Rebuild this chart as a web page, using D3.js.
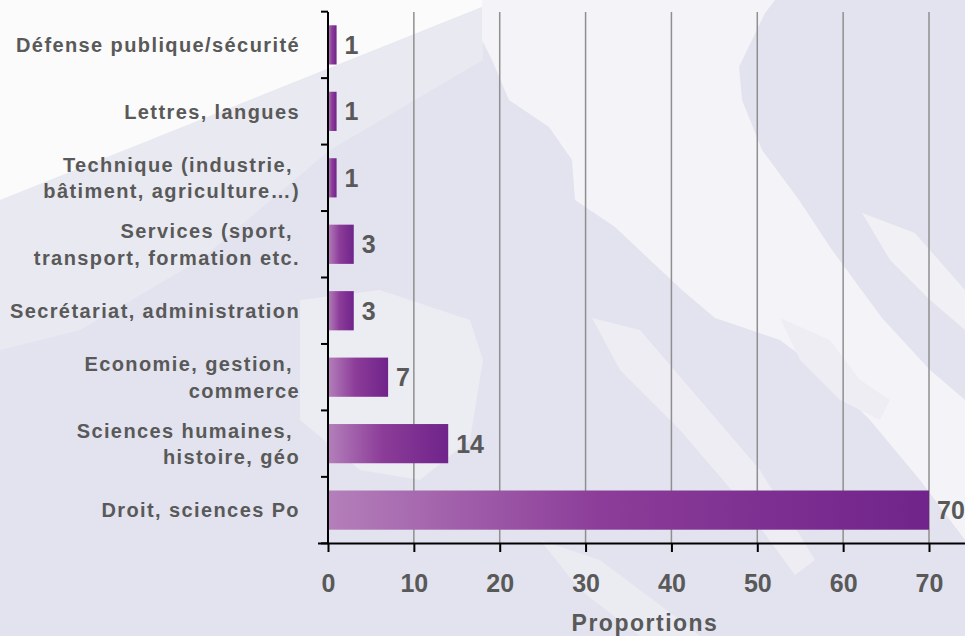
<!DOCTYPE html>
<html lang="fr">
<head>
  <meta charset="UTF-8" />
  <title>Proportions</title>
  <script src="https://d3js.org/d3.v7.min.js" charset="utf-8"></script>
  <style>
    body { margin: 0; background: #e2e3ee; }
    text { font-family: Arial, "Liberation Sans", sans-serif; font-weight: bold; fill: #595959; }
  </style>
</head>
<body>
<script type="text/javascript">

const WIDTH = 965;
const HEIGHT = 636;

// categories top -> bottom, one array entry per label line
const categories = [
    ["Défense publique/sécurité"],
    ["Lettres, langues"],
    ["Technique (industrie, ", "bâtiment, agriculture…)"],
    ["Services (sport, ", "transport, formation etc."],
    ["Secrétariat, administration"],
    ["Economie, gestion, ", "commerce"],
    ["Sciences humaines, ", "histoire, géo"],
    ["Droit, sciences Po"]
];
const values = [1, 1, 1, 3, 3, 7, 14, 70];
const xTicks = [0, 10, 20, 30, 40, 50, 60, 70];
const xTitle = "Proportions";

const svg = d3.select("body")
    .append("svg")
        .attr("width", WIDTH)
        .attr("height", HEIGHT);

// background (faded photo look), just decoration
const bg = svg.append("g");
bg.append("rect").attr("width", WIDTH).attr("height", HEIGHT).attr("fill", "#e2e3ee");
const shapes = [
    // soft lighter zone under the white corner
    ["#e9e9f1", "M0,200 L483,7 L483,60 L330,150 L200,260 L80,330 L0,350 Z"],
    // light patch behind the short bars
    ["#ececf3", "M300,300 L380,290 L470,320 L483,360 L470,440 L420,480 L360,470 L300,420 Z"],
    // diagonal light streak
    ["#f4f4f8", "M482,0 L775,0 L765,13 L739,67 L742,100 L762,150 L799,200 L832,250 L882,318 L930,370 L965,400 L965,540 L920,480 L870,420 L820,370 L780,340 L715,318 L682,290 L615,227 L575,200 L572,160 L549,127 L509,100 L492,60 L482,40 Z"],
    ["#f0f0f5", "M862,213 L915,233 L965,290 L965,330 L930,300 L890,260 Z"],
    // thin streaks lower right
    ["#ededf3", "M592,318 L640,330 L700,400 L760,470 L815,560 L795,575 L740,500 L680,430 L620,370 Z"],
    ["#ededf3", "M780,318 L830,340 L860,380 L890,400 L880,420 L840,400 L800,360 Z"],
    ["#ebebf2", "M540,540 L600,560 L680,620 L700,636 L640,636 L580,590 Z"],
    // white top-left corner
    ["#fbfbfc", "M0,0 L482,0 L482,7 L0,200 Z"]
];
bg.selectAll("path.bgshape")
    .data(shapes)
    .join("path")
        .attr("class", "bgshape")
        .attr("fill", d => d[0])
        .attr("d", d => d[1]);

const g = svg.append("g");

const x = d3.scaleLinear()
    .domain([0, 70])
    .range([328, 929]);

const y = d3.scaleBand()
    .domain(d3.range(categories.length))
    .range([12, 543])
    .paddingInner(0.41)
    .paddingOuter(0.2);

const grad = svg.append("defs").append("linearGradient")
    .attr("id", "barGrad")
    .attr("x1", "0%").attr("x2", "100%")
    .attr("y1", "0%").attr("y2", "0%");
grad.append("stop").attr("offset", "0%").attr("stop-color", "#b47fba");
grad.append("stop").attr("offset", "45%").attr("stop-color", "#8c3d99");
grad.append("stop").attr("offset", "100%").attr("stop-color", "#70238a");

// vertical grid
g.append("g")
    .selectAll("line")
    .data(xTicks.slice(1))
    .join("line")
        .attr("x1", d => x(d)).attr("x2", d => x(d))
        .attr("y1", y.range()[0]).attr("y2", y.range()[1])
        .attr("stroke", "#8f8f8f")
        .attr("stroke-width", 1.5);

// bars
g.append("g")
    .selectAll("rect")
    .data(values)
    .join("rect")
        .attr("x", x(0))
        .attr("y", (d, i) => y(i))
        .attr("width", d => x(d) - x(0))
        .attr("height", y.bandwidth())
        .attr("fill", "url(#barGrad)");

// value labels
g.append("g")
    .selectAll("text")
    .data(values)
    .join("text")
        .attr("x", d => x(d) + 8)
        .attr("y", (d, i) => y(i) + y.bandwidth() / 2)
        .attr("dy", "0.36em")
        .attr("font-size", "25px")
        .text(d => d);

// x axis
g.append("g")
    .attr("transform", `translate(0,${y.range()[1]})`)
    .call(d3.axisBottom(x).tickValues(xTicks).tickSize(9).tickSizeOuter(0).tickPadding(22))
    .call(a => a.select(".domain").attr("stroke", "#000").attr("stroke-width", 2)
        .attr("d", `M${x(0) - 10},0.5H${x(70) + 36}`))
    .call(a => a.selectAll(".tick line").attr("stroke", "#000").attr("stroke-width", 2))
    .call(a => a.selectAll(".tick text")
        .attr("font-size", "25px")
        .attr("font-family", null)
        .attr("fill", "#595959"));

// y axis with ticks on band boundaries
const step = y.step();
const bounds = d3.range(categories.length + 1).map(i =>
    i < categories.length ? y(i) - y.paddingInner() * step / 2 : y(i - 1) + y.bandwidth() + y.paddingInner() * step / 2);
g.append("line")
    .attr("x1", x(0)).attr("x2", x(0))
    .attr("y1", y.range()[0]).attr("y2", y.range()[1])
    .attr("stroke", "#000").attr("stroke-width", 2);
g.append("g")
    .selectAll("line")
    .data(bounds)
    .join("line")
        .attr("x1", x(0) - 7).attr("x2", x(0))
        .attr("y1", d => d).attr("y2", d => d)
        .attr("stroke", "#000").attr("stroke-width", 2);

// category labels
const lineH = 26.5;
g.append("g")
    .selectAll("text")
    .data(categories)
    .join("text")
        .attr("text-anchor", "end")
        .attr("font-size", "20px")
        .attr("letter-spacing", "1.4px")
        .style("white-space", "pre")
        .attr("y", (d, i) => y(i) + y.bandwidth() / 2 - (d.length - 1) * lineH / 2)
    .selectAll("tspan")
    .data(d => d)
    .join("tspan")
        .attr("x", 300)
        .attr("dy", (d, i) => i === 0 ? "0.36em" : lineH)
        .text(d => d);

// axis title
g.append("text")
    .attr("x", 645)
    .attr("y", 631)
    .attr("text-anchor", "middle")
    .attr("font-size", "23px")
    .attr("letter-spacing", "1.5px")
    .text(xTitle);

</script>
</body>
</html>
